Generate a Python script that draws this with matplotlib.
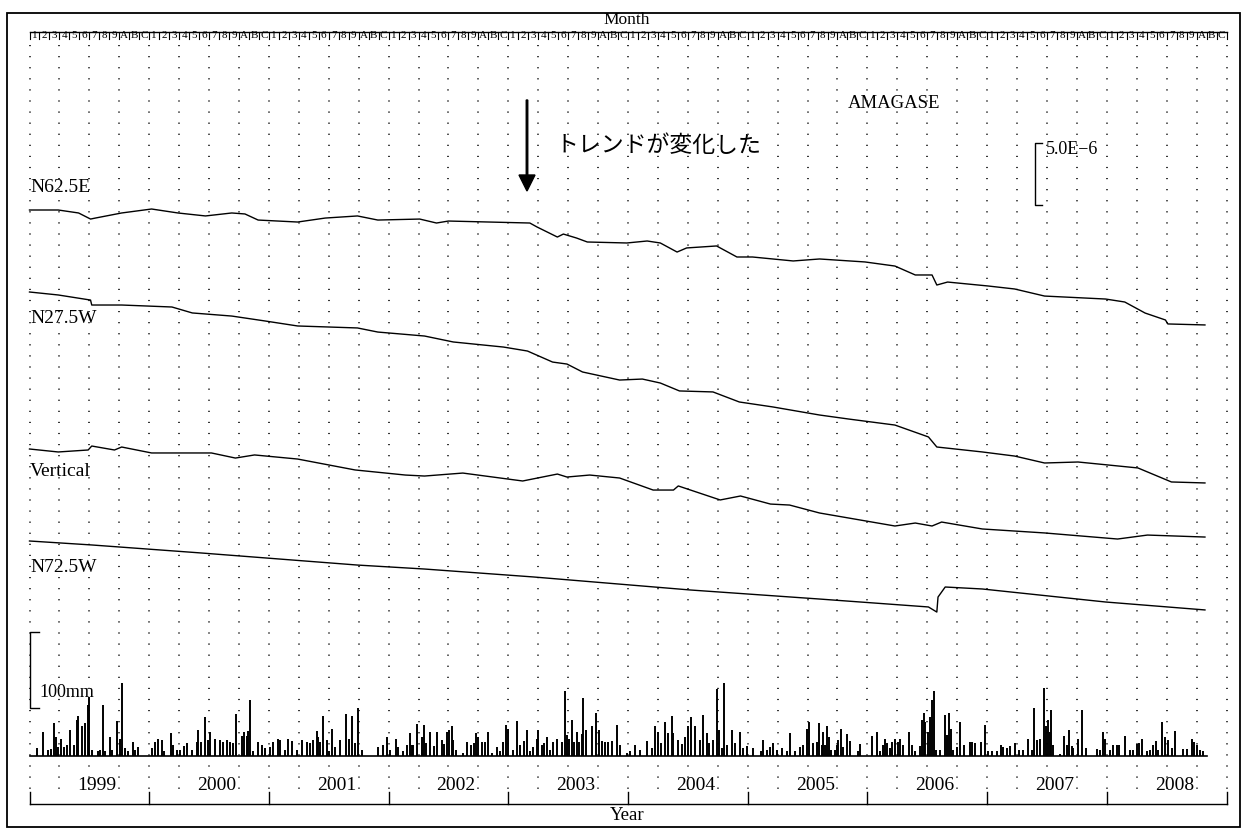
import matplotlib.pyplot as plt
from matplotlib.patches import Rectangle

plt.rcParams["font.family"] = ["Liberation Serif", "DejaVu Serif"]

# -----------------------------
# Data (time in decimal year, strain change in units of 1e-6)
# -----------------------------
n625e_t = [1999.00, 1999.24, 1999.41, 1999.51, 1999.55, 1999.77, 2000.02, 2000.24,
           2000.47, 2000.69, 2000.80, 2000.91, 2001.24, 2001.47, 2001.74, 2001.91,
           2002.26, 2002.40, 2002.50, 2003.18, 2003.24, 2003.41, 2003.46, 2003.57,
           2003.66, 2003.99, 2004.16, 2004.27, 2004.41, 2004.49, 2004.74, 2004.91,
           2005.04, 2005.38, 2005.60, 2005.98, 2006.23, 2006.40, 2006.54, 2006.58,
           2006.67, 2007.01, 2007.23, 2007.48, 2007.99, 2008.15, 2008.32, 2008.49,
           2008.51, 2008.82]
n625e_v = [0.00, 0.00, -0.24, -0.73, -0.65, -0.24, 0.08, -0.24,
           -0.48, -0.24, -0.32, -0.81, -0.97, -0.65, -0.48, -0.81,
           -0.73, -1.05, -0.89, -1.05, -1.37, -2.18, -1.94, -2.26,
           -2.58, -2.66, -2.50, -2.66, -3.39, -3.06, -2.90, -3.79,
           -3.79, -4.11, -3.95, -4.19, -4.52, -5.24, -5.24, -6.05,
           -5.81, -6.13, -6.37, -6.94, -7.18, -7.42, -8.31, -8.87,
           -9.19, -9.27]

n275w_t = [1999.00, 1999.24, 1999.51, 1999.52, 1999.77, 2000.19, 2000.36, 2000.69,
           2000.97, 2001.24, 2001.74, 2001.91, 2002.30, 2002.54, 2002.96, 2003.16,
           2003.37, 2003.49, 2003.62, 2003.93, 2004.12, 2004.27, 2004.43, 2004.71,
           2004.93, 2005.21, 2005.60, 2005.84, 2006.23, 2006.51, 2006.58, 2006.96,
           2007.23, 2007.48, 2007.76, 2008.01, 2008.26, 2008.54, 2008.82]
n275w_v = [0.00, -0.24, -0.65, -1.05, -1.05, -1.21, -1.69, -1.94,
           -2.34, -2.74, -2.90, -3.23, -3.55, -4.03, -4.44, -4.76,
           -5.65, -5.81, -6.45, -7.10, -7.02, -7.34, -7.98, -8.06,
           -8.87, -9.27, -9.92, -10.24, -10.73, -11.69, -12.50, -12.90,
           -13.23, -13.79, -13.71, -13.95, -14.19, -15.32, -15.40]

vert_t = [1999.00, 1999.24, 1999.49, 1999.52, 1999.71, 1999.77, 2000.02, 2000.52,
          2000.72, 2000.88, 2001.24, 2001.72, 2002.14, 2002.30, 2002.62, 2003.12,
          2003.41, 2003.49, 2003.68, 2003.93, 2004.21, 2004.38, 2004.42, 2004.77,
          2004.94, 2005.19, 2005.35, 2005.60, 2006.23, 2006.40, 2006.54, 2006.62,
          2006.96, 2007.48, 2007.99, 2008.09, 2008.34, 2008.82]
vert_v = [0.00, -0.24, -0.08, 0.24, -0.08, 0.16, -0.32, -0.32,
          -0.73, -0.48, -0.81, -1.69, -2.10, -2.18, -1.94, -2.58,
          -2.02, -2.26, -2.10, -2.34, -3.31, -3.31, -2.98, -4.11,
          -3.79, -4.44, -4.52, -5.16, -6.21, -5.97, -6.21, -5.89,
          -6.45, -6.77, -7.18, -7.26, -6.94, -7.10]

n725w_t = [1999.00, 1999.52, 2000.44, 2001.74, 2002.30, 2003.21, 2004.52, 2005.60,
           2006.51, 2006.58, 2006.59, 2006.65, 2006.96, 2007.99, 2008.82]
n725w_v = [0.00, -0.32, -0.97, -1.94, -2.26, -2.90, -3.95, -4.68,
           -5.32, -5.73, -4.52, -3.71, -3.87, -4.92, -5.56]

trace_names = ["N62.5E", "N27.5W", "Vertical", "N72.5W"]

# rainfall: months since Jan 1999, amount in mm
rain_month = [
    0.72, 1.39, 1.89, 2.15, 2.49, 2.62, 2.89, 3.16, 3.49, 3.73, 4.06, 4.49, 4.73, 4.89,
    5.23, 5.56, 5.83, 5.96, 6.23, 6.90, 7.07, 7.33, 7.57, 8.07, 8.30, 8.74, 9.07, 9.31,
    9.57, 9.91, 10.41, 10.58, 10.91, 12.25, 12.58, 12.85, 13.25, 13.52, 14.18, 14.42,
    14.75, 15.09, 15.52, 15.75, 16.26, 16.76, 16.92, 17.19, 17.59, 17.86, 18.09, 18.59,
    19.09, 19.43, 19.76, 20.09, 20.43, 20.67, 21.27, 21.53, 21.77, 21.87, 22.10, 22.44,
    22.94, 23.27, 23.60, 24.11, 24.44, 24.87, 25.11, 25.61, 25.94, 26.28, 26.78, 27.28,
    27.78, 28.12, 28.38, 28.78, 28.95, 29.12, 29.45, 29.79, 30.02, 30.29, 30.62, 31.12,
    31.69, 32.02, 32.29, 32.63, 32.96, 33.29, 34.96, 35.47, 35.80, 36.13, 36.70, 36.97,
    37.47, 37.80, 38.14, 38.31, 38.47, 38.81, 39.31,
    39.32, 39.55, 39.75, 40.15, 40.55, 40.82, 41.32, 41.56, 41.82, 42.09, 42.32, 42.49,
    42.72, 43.43, 43.83, 44.23, 44.56, 44.76, 45.00, 45.33, 45.67, 46.00, 46.33, 46.83,
    47.17, 47.50, 47.77, 48.00, 48.51, 48.84, 49.17, 49.57, 49.84, 50.18, 50.51, 50.84,
    51.01, 51.35, 51.58, 51.85, 52.18, 52.51, 52.85, 53.35, 53.68, 53.92, 54.12, 54.35,
    54.59, 54.85, 55.12, 55.35, 55.52, 55.79, 56.36, 56.79, 57.06, 57.36, 57.69, 58.03,
    58.36, 58.86, 59.20, 59.87, 60.20, 60.70, 61.20, 61.87, 62.37, 62.70, 63.04, 63.27,
    63.71, 64.04, 64.38, 64.54, 65.04, 65.38, 65.71, 66.05, 66.28, 66.71, 67.22, 67.55,
    67.88, 68.15, 68.55, 68.89, 69.12, 69.39, 69.62, 69.89, 70.39, 70.72, 71.22, 71.56,
    71.96, 72.56, 73.30, 73.56, 73.90, 74.23, 74.50, 74.90, 75.40, 75.90, 76.24, 76.74,
    77.24, 77.57, 77.91, 78.17, 78.58, 79.18,
    78.92, 79.42, 79.59, 79.75, 79.92, 80.15, 80.35, 80.75, 80.92, 81.09, 81.36, 81.59,
    81.92, 82.26, 83.09, 83.26, 84.43, 84.93, 85.27, 85.60, 85.77, 85.93, 86.27, 86.50,
    86.77, 87.04, 87.27, 87.60, 88.21, 88.51, 88.77, 89.27, 89.44, 89.64, 89.78, 90.04,
    90.24, 90.51, 90.64, 90.84, 91.28, 91.78, 92.01, 92.18, 92.38, 92.62, 92.95, 93.28,
    93.72, 94.29, 94.52, 94.79, 95.36, 95.79, 96.12, 96.52, 96.96, 97.39, 97.63, 97.96,
    98.30, 98.80, 99.20, 99.63, 100.13, 100.47, 100.73, 101.00, 101.30, 101.67, 101.87,
    102.07, 102.27, 102.40, 102.64, 103.31, 103.74, 103.98, 104.21, 104.48, 104.64,
    105.15, 105.48, 105.88, 106.98, 107.32, 107.65, 107.82, 108.32, 108.65, 108.99,
    109.22, 109.82, 110.32, 110.66, 110.99, 111.23, 111.49, 112.00, 112.33, 112.66,
    112.90, 113.16, 113.56, 113.83, 114.10, 114.50, 114.83, 115.67, 116.00, 116.50,
    116.77, 117.00, 117.34, 117.67,
]
rain_mm = [
    10, 31, 8, 9, 44, 25, 12, 23, 12, 14, 34, 14, 47, 53,
    39, 43, 67, 78, 8, 6, 8, 67, 6, 25, 8, 46, 23, 96,
    10, 6, 19, 8, 12, 10, 19, 22, 21, 6, 30, 14,
    8, 8, 13, 17, 8, 19, 34, 19, 51, 21, 32, 23,
    21, 19, 21, 19, 17, 55, 26, 32, 26, 33, 74, 6,
    19, 14, 10, 12, 19, 23, 21, 8, 23, 20, 8, 21,
    19, 17, 21, 33, 25, 19, 52, 21, 6, 36, 12, 21,
    55, 23, 52, 17, 63, 8, 12, 14, 25, 8, 23, 12,
    6, 14, 30, 14, 14, 42, 25,
    8, 41, 17, 31, 13, 32, 21, 16, 32, 34, 39, 21,
    8, 4, 18, 14, 17, 30, 25, 19, 19, 32, 4, 12,
    6, 19, 41, 35, 8, 46, 14, 20, 34, 6, 12, 22,
    34, 14, 17, 25, 8, 18, 23, 19, 86, 28, 23, 47,
    19, 31, 19, 29, 76, 34, 39, 57, 34, 20, 19, 19,
    20, 41, 14, 4, 6, 14, 8, 20, 10, 39, 32, 17,
    45, 30, 52, 30, 21, 16, 25, 39, 51, 39, 21, 54,
    30, 17, 21, 88, 34, 10, 96, 14, 34, 17, 32, 10,
    13, 11, 6, 21, 8, 12, 17, 8, 10, 6, 30, 6,
    12, 14, 36, 45, 17, 44,
    19, 14, 31, 14, 39, 25, 8, 8, 14, 21, 36, 12,
    29, 20, 6, 16, 26, 32, 6, 14, 22, 17, 10, 19,
    23, 19, 23, 14, 32, 14, 6, 13, 47, 56, 45, 31,
    51, 74, 85, 8, 8, 54, 28, 57, 36, 8, 12, 45,
    14, 19, 19, 17, 19, 41, 7, 6, 6, 14, 12, 10,
    13, 17, 8, 8, 22, 8, 63, 21, 23, 89, 39,
    47, 32, 61, 14, 3, 26, 14, 34, 13, 10,
    23, 61, 10, 9, 8, 31, 23, 8, 14, 14,
    14, 26, 8, 8, 16, 17, 22, 7, 8, 14,
    20, 8, 45, 25, 21, 10, 33, 9, 9, 23,
    19, 14, 8, 6,
]
rain_end_month = 118.0

year_labels = [str(y) for y in range(1999, 2009)]
month_labels = ["1", "2", "3", "4", "5", "6", "7", "8", "9", "A", "B", "C"]

# -----------------------------
# Layout (pixels of the 1247x831 canvas)
# -----------------------------
W, H, DPI = 1247, 831, 100
X0_PX = 29.5          # Jan 1999
PX_PER_YEAR = 119.7
X_LEFT = 1999 - X0_PX / PX_PER_YEAR
X_RIGHT = 1999 + (W - X0_PX) / PX_PER_YEAR
PX_PER_UE = 12.4      # pixels per 1e-6
PX_PER_MM = 0.76
RAIN_BASE_PX = 756
trace_top_px = [210, 292, 449, 541]
label_base_px = [192, 323, 476, 572]

fig = plt.figure(figsize=(W / DPI, H / DPI), dpi=DPI)


def overlay(xlim, ylim):
    a = fig.add_axes([0, 0, 1, 1])
    a.set_xlim(*xlim)
    a.set_ylim(*ylim)
    a.axis("off")
    return a


ax_px = overlay((0, W), (H, 0))
ax_t = overlay((X_LEFT, X_RIGHT), (H, 0))
ax_s = overlay((X_LEFT, X_RIGHT), (-H / PX_PER_UE, 0))
ax_r = overlay((X_LEFT, X_RIGHT),
               (-(H - RAIN_BASE_PX) / PX_PER_MM, RAIN_BASE_PX / PX_PER_MM))

# frame
ax_px.add_patch(Rectangle((7, 13), 1233, 814, fill=False, lw=1.3, color="black"))

# dotted quarterly grid
for k in range(41):
    x = 1999 + k / 4
    ax_t.plot([x, x], [45, 792], color="0.2", lw=1.4, linestyle=(0, (0.6, 5.1)))

# month axis on top
ax_t.plot([1999, 2009], [32, 32], color="black", lw=1)
for i in range(120):
    x = 1999 + i / 12
    ax_t.plot([x, x], [32, 39], color="black", lw=0.8)
    ax_t.text(x + 0.5 / 12, 36, month_labels[i % 12], fontsize=8,
              ha="center", va="center")
ax_t.plot([2009, 2009], [32, 39], color="black", lw=0.8)
ax_px.text(627, 20, "Month", fontsize=12.5, ha="center", va="center")

# year axis at bottom
ax_t.plot([1999, 2009], [804, 804], color="black", lw=1)
for k in range(11):
    ax_t.plot([1999 + k, 1999 + k], [792, 804], color="black", lw=1)
for k, lab in enumerate(year_labels):
    ax_t.text(1999 + k + 0.565, 786, lab, fontsize=14, ha="center", va="center")
ax_px.text(627, 816, "Year", fontsize=13.5, ha="center", va="center")

# strain traces
traces = [(n625e_t, n625e_v), (n275w_t, n275w_v), (vert_t, vert_v), (n725w_t, n725w_v)]
for (t, v), top, name, lab_y in zip(traces, trace_top_px, trace_names, label_base_px):
    base = -top / PX_PER_UE
    ax_s.plot(t, [base + val for val in v], color="black", lw=1.0)
    ax_px.text(30, lab_y, name, fontsize=14, ha="left", va="baseline")

# 5.0E-6 scale bar
sb_x = 1999 + (1035 - X0_PX) / PX_PER_YEAR
sb_bot = -205 / PX_PER_UE
ax_s.plot([sb_x + 0.06, sb_x, sb_x, sb_x + 0.06],
          [sb_bot + 5, sb_bot + 5, sb_bot, sb_bot], color="black", lw=1)
ax_px.text(1046, 150, "5.0E\u22126", fontsize=13, ha="left", va="center")

ax_px.text(848, 108, "AMAGASE", fontsize=13.5, ha="left", va="baseline")

# annotation
ax_px.arrow(527, 100, 0, 91, width=1.5, head_width=16, head_length=16,
            length_includes_head=True, color="black")
ax_px.text(555, 145, "トレンドが変化した", fontsize=16.5,
           family=["Noto Sans CJK JP", "DejaVu Sans"], ha="left", va="center")

# rainfall
ax_r.plot([1999, 1999 + rain_end_month / 12], [0, 0], color="black", lw=1.2)
ax_r.vlines([1999 + m / 12 for m in rain_month], 0, rain_mm, color="black", lw=1.4)
rb_bot = (RAIN_BASE_PX - 708) / PX_PER_MM
ax_r.plot([1999.08, 1999, 1999, 1999.08], [rb_bot + 100, rb_bot + 100, rb_bot, rb_bot],
          color="black", lw=1)
ax_px.text(39, 697, "100mm", fontsize=13, ha="left", va="baseline")

fig.savefig("out.png", dpi=DPI)
